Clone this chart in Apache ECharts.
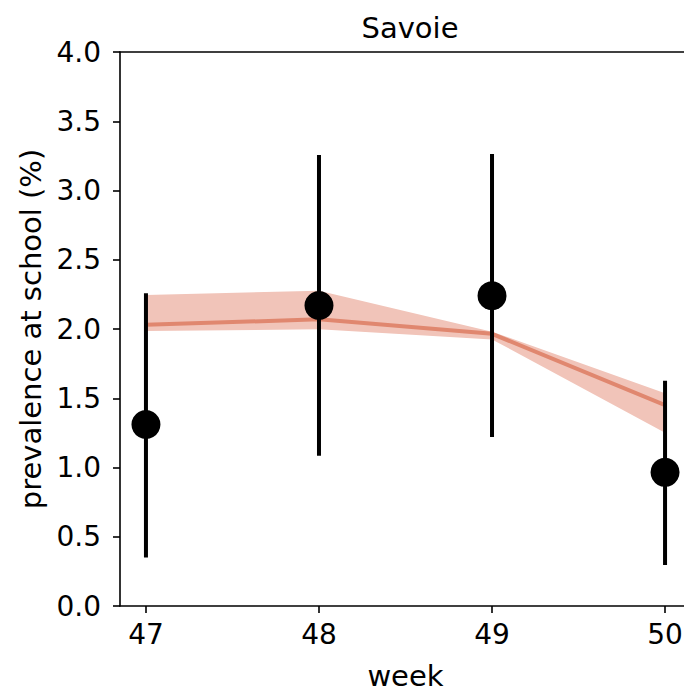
<!DOCTYPE html>
<html>
<head>
<meta charset="utf-8">
<script src="https://cdn.jsdelivr.net/npm/echarts@6/dist/echarts.min.js"></script>
<style>html,body{margin:0;padding:0;background:#fff;}#chart{width:684px;height:691px;}</style>
</head>
<body>
<div id="chart"></div>
<script>
const title = 'Savoie';
const xLabel = 'week';
const yLabel = 'prevalence at school (%)';
const weeks = [47, 48, 49, 50];
const observed = [1.31, 2.17, 2.24, 0.965];
const obsLow = [0.35, 1.085, 1.22, 0.296];
const obsHigh = [2.258, 3.256, 3.264, 1.627];
const model = [2.03, 2.07, 1.965, 1.451];
const modelLow = [1.986, 1.998, 1.925, 1.251];
const modelHigh = [2.245, 2.277, 1.981, 1.536];
const yTicks = [0, 0.5, 1, 1.5, 2, 2.5, 3, 3.5, 4];

const FONT = 'DejaVu Sans';
const FS = 28;
const FS_NAME = 29;

const chart = echarts.init(document.getElementById('chart'), null, {renderer: 'svg'});
const option = {
  animation: false,
  backgroundColor: '#fff',
  textStyle: {fontFamily: FONT},
  title: {
    text: title,
    left: 405,
    top: 8,
    textAlign: 'center',
    textStyle: {fontFamily: FONT, fontSize: FS_NAME, fontWeight: 'normal', color: '#000'}
  },
  grid: {left: 120, top: 52, width: 571, height: 554, containLabel: false, outerBoundsMode: 'none'},
  xAxis: [{
    type: 'value', min: 46.85, max: 50.15,
    name: xLabel, nameLocation: 'middle', nameGap: 55,
    nameTextStyle: {fontFamily: FONT, fontSize: FS_NAME, color: '#000'},
    axisLine: {show: true, onZero: false, lineStyle: {color: '#000', width: 1.6}},
    axisTick: {show: true, inside: false, length: 7, customValues: weeks, lineStyle: {color: '#000', width: 1.6}},
    axisLabel: {show: true, margin: 14, customValues: weeks, fontFamily: FONT, fontSize: FS, color: '#000'},
    splitLine: {show: false}
  }, {
    type: 'value', position: 'top', min: 46.85, max: 50.15,
    axisLine: {show: true, onZero: false, lineStyle: {color: '#000', width: 1.6}},
    axisTick: {show: false}, axisLabel: {show: false}, splitLine: {show: false}
  }],
  yAxis: {
    type: 'value', min: 0, max: 4, interval: 0.5,
    name: yLabel, nameLocation: 'middle', nameGap: 71, nameRotate: 90,
    nameTextStyle: {fontFamily: FONT, fontSize: FS_NAME, color: '#000'},
    axisLine: {show: true, onZero: false, lineStyle: {color: '#000', width: 1.6}},
    axisTick: {show: true, inside: false, length: 7, lineStyle: {color: '#000', width: 1.6}},
    axisLabel: {show: true, margin: 19, fontFamily: FONT, fontSize: FS, color: '#000',
      formatter: v => v.toFixed(1)},
    splitLine: {show: false}
  },
  series: [
    {
      type: 'custom',
      name: 'band',
      z: 1,
      data: [[weeks[0], modelLow[0]]],
      renderItem: function (params, api) {
        const pts = [];
        for (let i = 0; i < weeks.length; i++) pts.push(api.coord([weeks[i], modelHigh[i]]));
        for (let i = weeks.length - 1; i >= 0; i--) pts.push(api.coord([weeks[i], modelLow[i]]));
        return {type: 'polygon', shape: {points: pts}, style: {fill: '#F1C4B9', stroke: null}};
      }
    },
    {
      type: 'line',
      name: 'model',
      z: 2,
      data: weeks.map((w, i) => [w, model[i]]),
      symbol: 'none',
      lineStyle: {color: '#E0876F', width: 4},
      itemStyle: {color: '#E0876F'}
    },
    {
      type: 'custom',
      name: 'errors',
      z: 3,
      data: weeks.map((w, i) => [w, obsLow[i], obsHigh[i]]),
      renderItem: function (params, api) {
        const a = api.coord([api.value(0), api.value(1)]);
        const b = api.coord([api.value(0), api.value(2)]);
        return {type: 'line', shape: {x1: a[0], y1: a[1], x2: b[0], y2: b[1]},
          style: {stroke: '#000', lineWidth: 4}};
      }
    },
    {
      type: 'scatter',
      name: 'observed',
      z: 4,
      data: weeks.map((w, i) => [w, observed[i]]),
      symbol: 'circle',
      symbolSize: 29,
      itemStyle: {color: '#000', opacity: 1}
    }
  ]
};
chart.setOption(option);
</script>
</body>
</html>
